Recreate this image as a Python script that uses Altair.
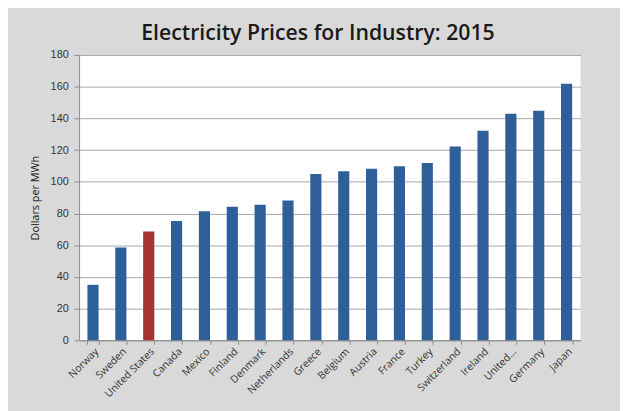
import altair as alt
import pandas as pd

countries = ["Norway", "Sweden", "United States", "Canada", "Mexico", "Finland",
             "Denmark", "Netherlands", "Greece", "Belgium", "Austria", "France",
             "Turkey", "Switzerland", "Ireland", "United...", "Germany", "Japan"]
prices = [35.0, 58.5, 68.7, 75.2, 81.4, 84.3, 85.5, 88.2, 105.0, 106.7,
          108.3, 109.8, 111.9, 122.2, 132.2, 143.0, 144.9, 161.9]
highlight = ["United States"]

df = pd.DataFrame({"country": countries, "price": prices})
df["hl"] = df["country"].isin(highlight).map({True: "us", False: "other"})

font = "Liberation Sans"
font2 = "Open Sans"

chart = alt.Chart(df).mark_bar().encode(
    x=alt.X("country:N", sort=countries, title=None,
            scale=alt.Scale(paddingInner=0.6, paddingOuter=0.3),
            axis=alt.Axis(labelAngle=-45, labelFontSize=10.5, labelFont=font2,
                          labelColor="#333333", tickBand="extent", tickSize=4,
                          tickColor="#8a8a8a", domainColor="#8a8a8a",
                          labelPadding=2, grid=False)),
    y=alt.Y("price:Q", title="Dollars per MWh",
            scale=alt.Scale(domain=[0, 180]),
            axis=alt.Axis(values=list(range(0, 181, 20)), labelFontSize=11,
                          labelFont=font, labelColor="#333333", titleFont=font2,
                          titleFontSize=11, titleFontWeight="normal",
                          titleColor="#222222", titlePadding=10,
                          tickSize=5, tickColor="#8a8a8a", domainColor="#8a8a8a",
                          gridColor="#a8a8a8", gridWidth=1, labelPadding=6)),
    color=alt.Color("hl:N", scale=alt.Scale(domain=["other", "us"],
                                            range=["#2f5f98", "#a33432"]),
                    legend=None),
).properties(
    width=508, height=289,
    padding={"left": 72, "top": 45, "right": 40, "bottom": 69},
    autosize=alt.AutoSizeParams(type="none"),
    background="#d9d9d9",
    title=alt.TitleParams("Electricity Prices for Industry: 2015", font="Open Sans",
                          fontSize=21.5, fontWeight=600, color="#1a1a1a",
                          anchor="middle", dx=-12, offset=5),
).configure_view(fill="white", stroke=None)

chart.save("out.html", embed_options={"renderer": "svg", "actions": False})
